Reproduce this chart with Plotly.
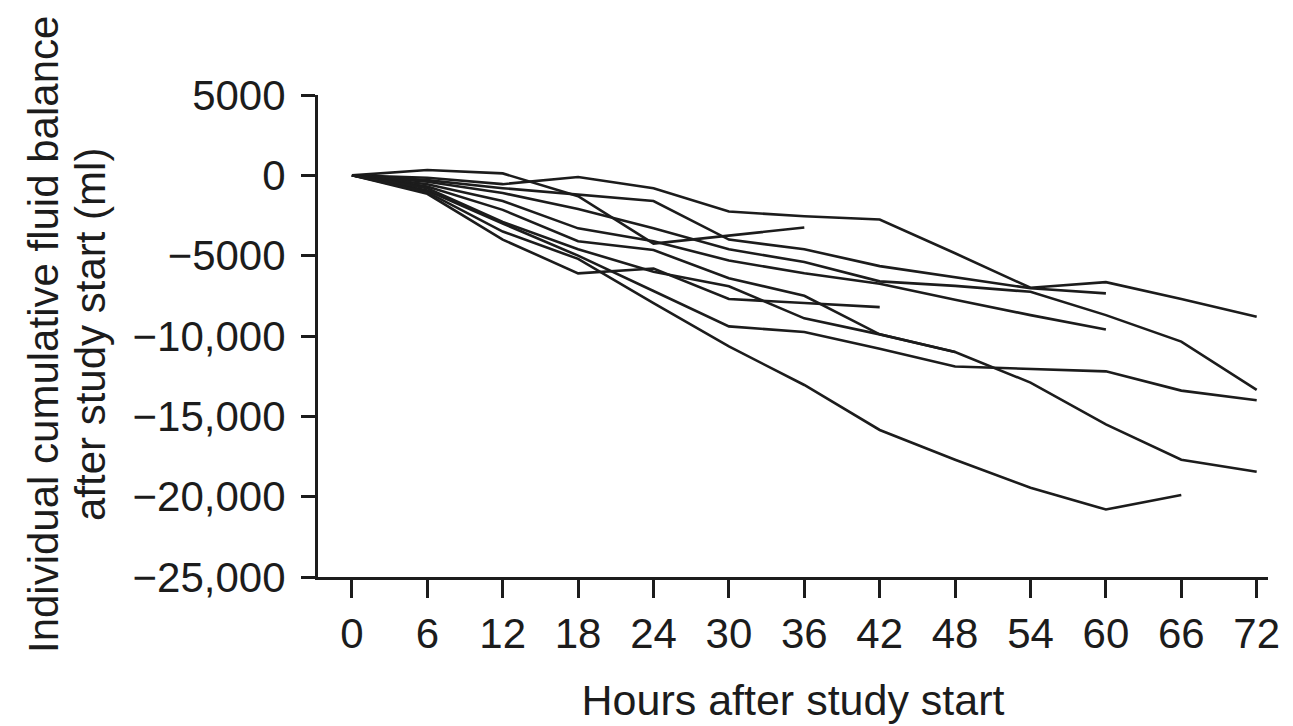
import plotly.graph_objects as go

hours = [0, 6, 12, 18, 24, 30, 36, 42, 48, 54, 60, 66, 72]

# Cumulative fluid balance (ml) per patient, one value per 6-h time point
pt_a = [0, -150, -550, -100, -800, -2250, -2550, -2750, -4850, -7000, -6650, -7700, -8800]
pt_b = [0, -950, -3000, -5000, -7200, -9400, -9750, -10800, -11900, -12050, -12200, -13400, -14000]
pt_c = [0, -1150, -4000, -6100, -5800, -7700, -7950, -8200]
pt_d = [0, 330, 120, -1300, -4250, -3750, -3250]
pt_e = [0, -300, -800, -1200, -1600, -4000, -4600, -5650, -6350, -7030, -7350]
pt_f = [0, -400, -1100, -2100, -3300, -4600, -5400, -6600, -6880, -7250, -8700, -10350, -13350]
pt_g = [0, -550, -1600, -3300, -4100, -5300, -6100, -6750, -7750, -8700, -9600]
pt_h = [0, -700, -2150, -4100, -4650, -6400, -7500, -9900, -11000, -12900, -15500, -17700, -18450]
pt_j = [0, -800, -2900, -4600, -6000, -6900, -8900, -9900, -11000]
pt_k = [0, -1050, -3500, -5200, -7950, -10650, -13050, -15850, -17700, -19450, -20800, -19900]

patients = [pt_a, pt_b, pt_c, pt_d, pt_e, pt_f, pt_g, pt_h, pt_j, pt_k]

y_tick_vals = [5000, 0, -5000, -10000, -15000, -20000, -25000]
y_tick_text = ["5000", "0", "\u22125000", "\u221210,000", "\u221215,000", "\u221220,000", "\u221225,000"]
x_tick_vals = hours
x_tick_text = [str(h) for h in hours]

y_title_lines = ["Individual cumulative fluid balance", "after study start (ml)"]
x_title = "Hours after study start"

FONT = "Liberation Sans, Arial, Helvetica, sans-serif"
INK = "#1c1c1c"

fig = go.Figure()
for vals in patients:
    fig.add_trace(go.Scatter(
        x=hours[:len(vals)], y=vals, mode="lines",
        line=dict(color=INK, width=2.6), showlegend=False, hoverinfo="skip"))

fig.update_layout(
    width=1293, height=726,
    margin=dict(l=310, r=33, t=87, b=157),
    paper_bgcolor="white", plot_bgcolor="white",
    font=dict(family=FONT, size=42, color=INK),
)
fig.update_xaxes(
    range=[-2.7, 72.9], tickmode="array", tickvals=x_tick_vals, ticktext=x_tick_text,
    showgrid=False, zeroline=False, showline=True, linecolor=INK, linewidth=3,
    ticks="outside", ticklen=18, tickwidth=3, tickcolor=INK, ticklabelstandoff=0,
    tickfont=dict(size=42, family=FONT, color=INK),
    title=dict(text=x_title, font=dict(size=43, family=FONT, color=INK), standoff=29),
)
fig.update_yaxes(
    range=[-25000, 5000], tickmode="array", tickvals=y_tick_vals, ticktext=y_tick_text,
    showgrid=False, zeroline=False, showline=True, linecolor=INK, linewidth=3,
    ticks="outside", ticklen=14, tickwidth=3, tickcolor=INK, ticklabelstandoff=7,
    tickfont=dict(size=42, family=FONT, color=INK),
)
# two-line y-axis title, one annotation per line (pixel offsets from the plot's left edge)
for text, shift in zip(y_title_lines, [-275, -228]):
    fig.add_annotation(
        text=text, xref="paper", yref="paper", x=0, y=0.502, xshift=shift,
        xanchor="center", yanchor="middle", textangle=-90, showarrow=False,
        font=dict(size=42, family=FONT, color=INK),
    )

fig.write_html("out.html")
